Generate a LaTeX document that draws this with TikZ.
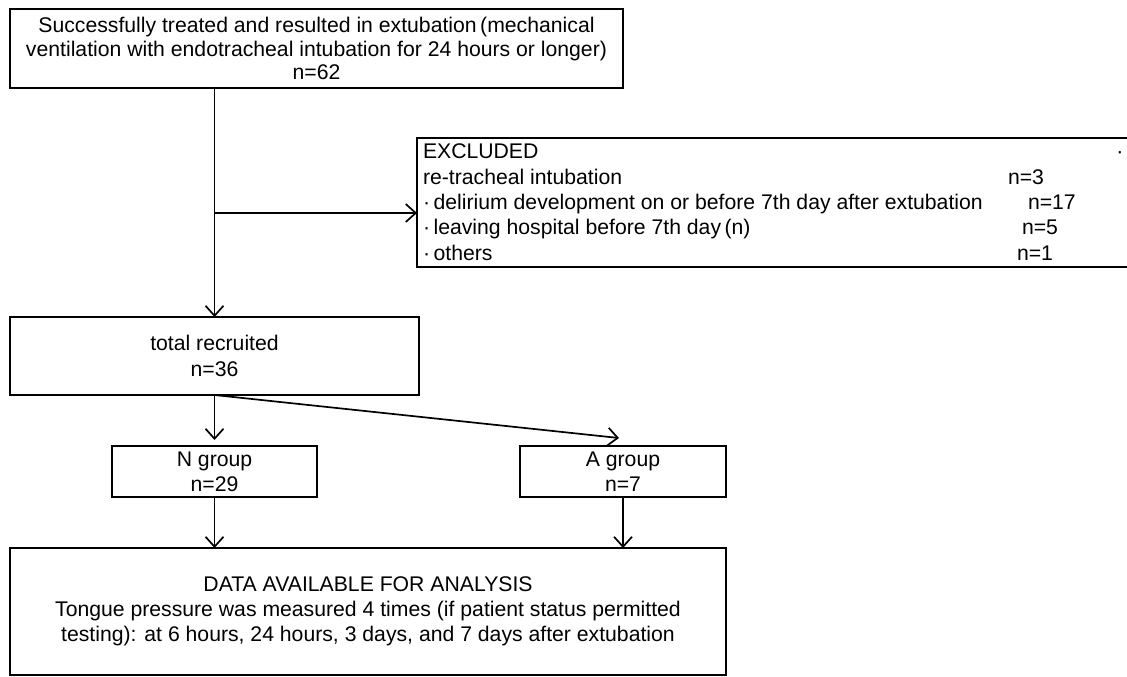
\documentclass[tikz,border=0pt]{standalone}
\usepackage{fontspec}
\setmainfont{Liberation Sans}
\usetikzlibrary{arrows.meta,calc}
\begin{document}
\begin{tikzpicture}[x=0.5pt,y=-0.5pt,
  box/.style={draw=black,line width=1pt,rectangle,inner sep=0pt,outer sep=0pt,align=center,
    font=\fontsize{10.6}{12.6}\selectfont},
  txt/.style={inner sep=0pt,outer sep=0pt,font=\fontsize{10.6}{12.6}\selectfont},
  conn/.style={line width=0.85pt,-{Straight Barb[length=5pt,width=9pt,line width=0.85pt]}},
  plain/.style={line width=0.85pt}]
\useasboundingbox (0,0) rectangle (1127,676);
\fill[white] (0,0) rectangle (1127,676);
% boxes
\node[box,minimum width=306.5pt,minimum height=39.5pt,font=\fontsize{10.6}{11.6}\selectfont] (top) at (316.5,48.5)
  {Successfully treated and resulted in extubation\,(mechanical\\ventilation with endotracheal intubation for 24 hours or longer)\\n=62};
\node[box,minimum width=361.5pt,minimum height=64.5pt] (excl) at (778.5,202.5) {};
\node[box,minimum width=204.5pt,minimum height=39pt] (total) at (214.5,356) {total recruited\\n=36};
\node[box,minimum width=102.5pt,minimum height=25.5pt] (ngrp) at (214.5,471.5) {N group\\n=29};
\node[box,minimum width=103pt,minimum height=25.5pt] (agrp) at (623,471.5) {A group\\n=7};
\node[box,minimum width=358pt,minimum height=63.5pt] (data) at (368,611.5)
  {DATA AVAILABLE FOR ANALYSIS\\Tongue pressure was measured 4 times (if patient status permitted\\testing): at 6 hours, 24 hours, 3 days, and 7 days after extubation};
% excluded texts
\node[txt,anchor=base west] (e1) at (423,158) {EXCLUDED};
\node[txt,anchor=base west] (e2) at (423,184) {re-tracheal intubation};
\node[txt,anchor=base west] (e3) at (423,209) {·\,delirium development on or before 7th day after extubation};
\node[txt,anchor=base west] (e4) at (423,234) {·\,leaving hospital before 7th day\,(n)};
\node[txt,anchor=base west] (e5) at (423,260) {·\,others};
\node[txt,anchor=base west] (n1) at (1008,184) {n=3};
\node[txt,anchor=base west] (n2) at (1028,209) {n=17};
\node[txt,anchor=base west] (n3) at (1022,234) {n=5};
\node[txt,anchor=base west] (n4) at (1017,260) {n=1};
\node[txt,anchor=base] (dot) at (1120,158) {·};
% connectors
\coordinate (br) at (214.5,213);
\draw[conn] (top.south -| total.north) -- (total.north);
\draw[conn] (br) -- (br -| excl.west);
\draw[conn,shorten >=3pt] (total.south) -- (ngrp.north);
\draw[conn] (total.south) -- ($(agrp.north)+(-4,-8)$);
\draw[conn] (ngrp.south) -- (ngrp.south |- data.north);
\draw[conn] (agrp.south) -- (agrp.south |- data.north);
\end{tikzpicture}
\end{document}
